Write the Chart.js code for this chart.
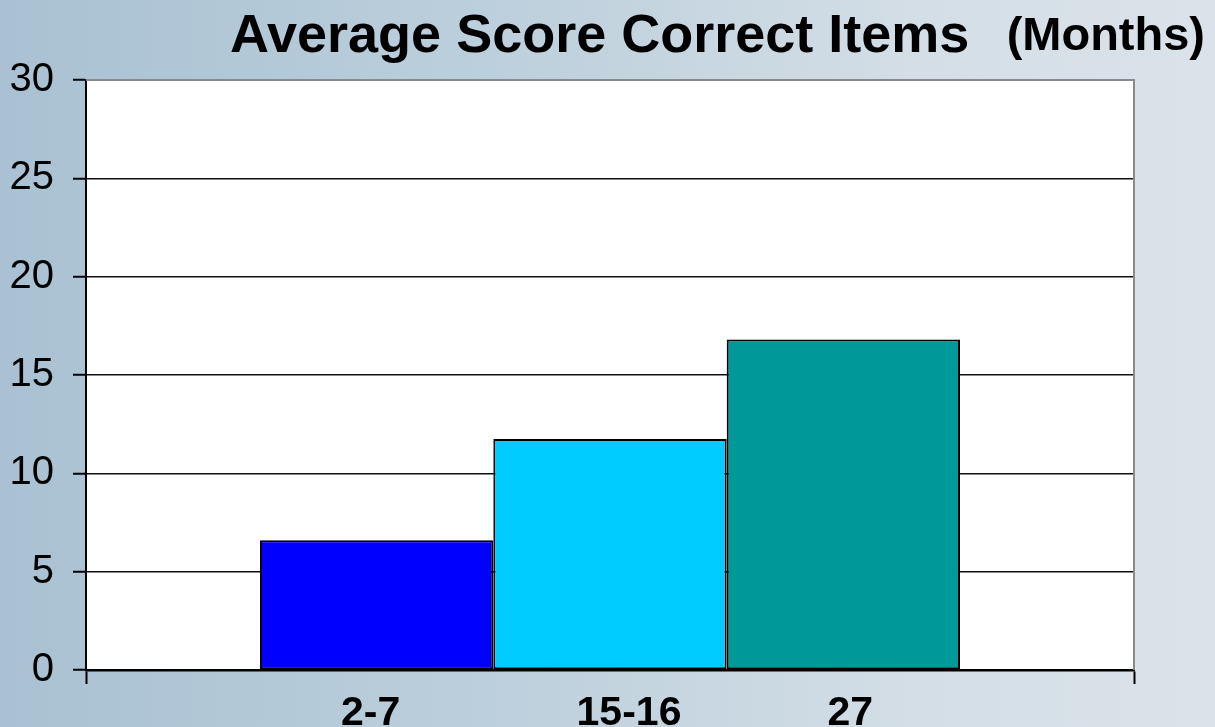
<!DOCTYPE html>
<html>
<head>
<meta charset="utf-8">
<script src="https://cdn.jsdelivr.net/npm/chart.js@4"></script>
<style>
  html, body { margin: 0; padding: 0; width: 1215px; height: 727px; overflow: hidden; }
  body { background: linear-gradient(to right, #a9c1d2 0%, #bccfdc 40%, #d3dee6 75%, #dbe3ea 100%); }
  canvas { display: block; }
</style>
</head>
<body>
<canvas id="c" width="1215" height="727"></canvas>
<script>
// ---- data ----
const categories = ['2-7', '15-16', '27'];
const scores = [6.6, 11.75, 16.8];
const barColors = ['#0000FF', '#00CCFF', '#009999'];
const yTickValues = [0, 5, 10, 15, 20, 25, 30];
const titleMain = 'Average Score Correct Items';
const titleSub = '(Months)';

const FONT = '"Liberation Sans", Arial, sans-serif';

const datasets = categories.map((cat, i) => ({
  label: cat,
  data: [scores[i]],
  backgroundColor: barColors[i],
  borderColor: '#000000',
  borderWidth: 2,
  borderSkipped: false,
  categoryPercentage: 0.668,
  barPercentage: 1.0
}));

const decorPlugin = {
  id: 'decor',
  beforeDraw(chart) {
    const { ctx, chartArea: a } = chart;
    ctx.save();
    ctx.fillStyle = '#ffffff';
    ctx.fillRect(a.left, a.top, a.right - a.left, a.bottom - a.top);
    ctx.restore();
  },
  afterDraw(chart) {
    const { ctx, chartArea: a } = chart;
    ctx.save();
    // gray top and right plot border
    ctx.strokeStyle = '#8a8a8a';
    ctx.lineWidth = 2;
    ctx.beginPath();
    ctx.moveTo(a.left, a.top);
    ctx.lineTo(a.right, a.top);
    ctx.lineTo(a.right, a.bottom);
    ctx.stroke();
    // title
    ctx.fillStyle = '#000000';
    ctx.textBaseline = 'alphabetic';
    ctx.textAlign = 'left';
    ctx.font = 'bold 54px ' + FONT;
    ctx.fillText(titleMain, 230, 52);
    ctx.textAlign = 'right';
    ctx.font = 'bold 47px ' + FONT;
    ctx.fillText(titleSub, 1205, 50);
    // category labels under the bars
    const nudges = [-6, 19, 7];
    ctx.textAlign = 'center';
    ctx.font = 'bold 41px ' + FONT;
    categories.forEach((cat, i) => {
      const bar = chart.getDatasetMeta(i).data[0];
      ctx.fillText(cat, bar.x + nudges[i], 725);
    });
    ctx.restore();
  }
};

new Chart(document.getElementById('c'), {
  type: 'bar',
  data: { labels: [''], datasets },
  options: {
    responsive: false,
    animation: false,
    devicePixelRatio: 1,
    layout: { padding: { left: 0, top: 80, right: 81, bottom: 57 } },
    plugins: { legend: { display: false }, title: { display: false }, tooltip: { enabled: false } },
    scales: {
      x: {
        offset: true,
        grid: {
          offset: true,
          drawOnChartArea: false,
          drawTicks: true,
          tickLength: 14,
          tickColor: '#000000',
          tickWidth: 2
        },
        border: { display: true, color: '#000000', width: 2.5 },
        ticks: { display: false },
        afterFit(scale) { scale.height = 0; }
      },
      y: {
        min: 0,
        max: 30,
        afterBuildTicks(scale) { scale.ticks = yTickValues.map(v => ({ value: v })); },
        grid: {
          color: (c) => (c.tick && c.tick.value === 30) ? '#8a8a8a' : '#111111',
          lineWidth: 1.5,
          tickLength: 13,
          tickColor: '#000000',
          tickWidth: 2
        },
        border: { display: true, color: '#000000', width: 2 },
        ticks: {
          color: '#000000',
          padding: 19,
          font: { family: FONT, size: 40 }
        },
        afterFit(scale) { scale.width = 86; }
      }
    }
  },
  plugins: [decorPlugin]
});
</script>
</body>
</html>
